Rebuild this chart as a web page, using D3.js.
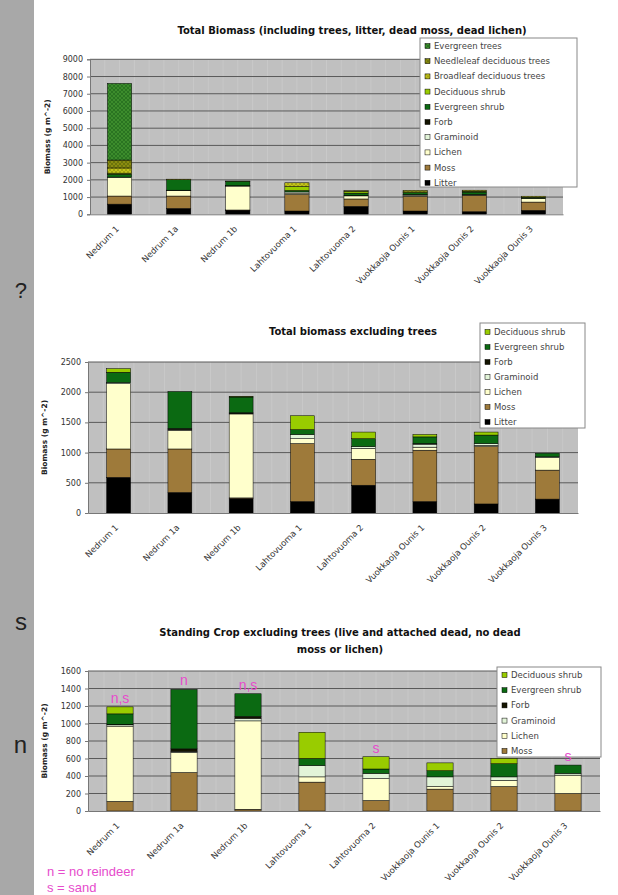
<!DOCTYPE html>
<html>
<head>
<meta charset="utf-8">
<script src="https://cdn.jsdelivr.net/npm/d3@7"></script>
<style>
  body { margin: 0; background: #fff; }
  svg text { font-family: "DejaVu Sans", Verdana, sans-serif; }
</style>
</head>
<body>
<div id="chart"></div>
<script>
var categories = ["Nedrum 1", "Nedrum 1a", "Nedrum 1b", "Lahtovuoma 1", "Lahtovuoma 2",
	"Vuokkaoja Ounis 1", "Vuokkaoja Ounis 2", "Vuokkaoja Ounis 3"];

// biomass in g m^-2
var litter         = [590, 340, 240, 190, 460, 190, 150, 230];
var moss           = [470, 720, 10, 960, 430, 850, 950, 480];
var lichen         = [1080, 310, 1390, 80, 180, 50, 20, 210];
var graminoid      = [20, 10, 10, 70, 30, 50, 30, 10];
var forb           = [0, 20, 10, 0, 0, 10, 0, 0];
var evergreenShrub = [170, 610, 260, 80, 130, 110, 140, 60];
var deciduousShrub = [60, 0, 10, 230, 110, 40, 50, 0];
var broadleafTrees  = [300, 30, 0, 220, 30, 90, 60, 60];
var needleleafTrees = [460, 0, 0, 0, 0, 0, 0, 0];
var evergreenTrees  = [4450, 0, 0, 0, 0, 0, 0, 0];

// standing crop (live and attached dead)
var scMoss      = [110, 440, 20, 330, 120, 250, 280, 200];
var scLichen    = [860, 230, 1010, 60, 250, 30, 70, 210];
var scGraminoid = [15, 10, 30, 130, 60, 110, 40, 20];
var scForb      = [5, 30, 20, 0, 0, 0, 0, 0];
var scEvergreen = [120, 680, 260, 80, 50, 70, 150, 95];
var scDeciduous = [80, 0, 0, 300, 140, 90, 60, 0];
var scNotes     = ["n,s", "n", "n,s", "", "s", "", "", "s"];

var ticks1 = d3.range(0, 9001, 1000);
var ticks2 = d3.range(0, 2501, 500);
var ticks3 = d3.range(0, 1601, 200);

var colors = {
	"Litter": "#000000",
	"Moss": "#9e7a3a",
	"Lichen": "#ffffcc",
	"Graminoid": "#e2f4d8",
	"Forb": "#141400",
	"Evergreen shrub": "#0b6a12",
	"Deciduous shrub": "#99cc00",
	"Broadleaf deciduous trees": "url(#hBroad)",
	"Needleleaf deciduous trees": "url(#hNeedle)",
	"Evergreen trees": "url(#hEver)"
};

var W = 618, H = 895;
var svg = d3.select("#chart").append("svg")
	.attr("width", W).attr("height", H);

// hatch fills for the tree series
var defs = svg.append("defs");
function hatch(id, bg, fg) {
	var p = defs.append("pattern").attr("id", id)
		.attr("patternUnits", "userSpaceOnUse").attr("width", 4).attr("height", 4);
	p.append("rect").attr("width", 4).attr("height", 4).attr("fill", bg);
	p.append("path").attr("d", "M0,4 L4,0 M0,0 L4,4").attr("stroke", fg).attr("stroke-width", 0.7);
}
hatch("hEver", "#3c8c2c", "#226a1c");
hatch("hNeedle", "#8c8c10", "#5e6a08");
hatch("hBroad", "#c4c41c", "#9a9a10");

// grey slide edge on the left
svg.append("rect").attr("x", 0).attr("y", 0).attr("width", 34).attr("height", H).attr("fill", "#a8a8a8");
svg.append("text").attr("x", 27).attr("y", 298).attr("text-anchor", "end")
	.style("font-family", "Liberation Sans, Arial").style("font-size", "22px").attr("fill", "#222").text("?");
svg.append("text").attr("x", 27).attr("y", 630).attr("text-anchor", "end")
	.style("font-family", "Liberation Sans, Arial").style("font-size", "24px").attr("fill", "#222").text("s");
svg.append("text").attr("x", 27).attr("y", 753).attr("text-anchor", "end")
	.style("font-family", "Liberation Sans, Arial").style("font-size", "24px").attr("fill", "#222").text("n");

function drawPanel(cfg) {
	var g = svg.append("g");
	var rows = categories.map(function(c, i) {
		var r = {cat: c};
		cfg.keys.forEach(function(k, j) { r[k] = cfg.values[j][i]; });
		return r;
	});
	var stacked = d3.stack().keys(cfg.keys)(rows);

	var x = d3.scaleBand().domain(categories).range([cfg.left, cfg.right])
		.paddingInner(cfg.pad).paddingOuter(cfg.pad / 2);
	var y = d3.scaleLinear().domain([0, d3.max(cfg.ticks)]).range([cfg.bottom, cfg.top]);

	g.append("rect")
		.attr("x", cfg.left).attr("y", cfg.top)
		.attr("width", cfg.right - cfg.left).attr("height", cfg.bottom - cfg.top)
		.attr("fill", "#c0c0c0");

	// faint vertical lines
	var step = x.step();
	g.selectAll(".vline").data(d3.range(1, categories.length * 4))
		.enter().append("line")
		.attr("x1", function(d) { return cfg.left + d * step / 4; })
		.attr("x2", function(d) { return cfg.left + d * step / 4; })
		.attr("y1", cfg.top).attr("y2", cfg.bottom)
		.attr("stroke", "#cfcfcf").attr("stroke-width", 0.6);

	g.selectAll(".grid").data(cfg.ticks.slice(1))
		.enter().append("line")
		.attr("x1", cfg.left).attr("x2", cfg.right)
		.attr("y1", function(d) { return y(d); }).attr("y2", function(d) { return y(d); })
		.attr("stroke", "#5a5a5a").attr("stroke-width", 1);

	g.selectAll(".layer").data(stacked)
		.enter().append("g")
		.attr("fill", function(d) { return colors[d.key]; })
		.selectAll("rect").data(function(d) { return d; })
		.enter().append("rect")
		.filter(function(d) { return d[1] - d[0] > 0; })
		.attr("x", function(d) { return x(d.data.cat); })
		.attr("width", x.bandwidth())
		.attr("y", function(d) { return y(d[1]); })
		.attr("height", function(d) { return y(d[0]) - y(d[1]); })
		.attr("stroke", "#000").attr("stroke-width", 0.5);

	var yAxis = g.append("g")
		.attr("transform", "translate(" + cfg.left + ",0)")
		.call(d3.axisLeft(y).tickValues(cfg.ticks).tickFormat(d3.format("d")).tickSize(3).tickPadding(4));
	yAxis.selectAll("text").style("font-size", "8px").attr("fill", "#333");
	yAxis.selectAll("line, path").attr("stroke", "#777");

	var xAxis = g.append("g")
		.attr("transform", "translate(0," + cfg.bottom + ")")
		.call(d3.axisBottom(x).tickSize(0).tickFormat(""));
	xAxis.selectAll("path").attr("stroke", "#777");

	g.selectAll(".cat").data(categories)
		.enter().append("text")
		.attr("transform", function(d) {
			return "translate(" + (x(d) + x.bandwidth() / 2 - 2) + "," + (cfg.bottom + 13) + ") rotate(-45)";
		})
		.attr("text-anchor", "end")
		.attr("dy", "0.35em")
		.style("font-size", "8.5px")
		.attr("fill", "#333")
		.text(function(d) { return d; });

	g.append("text")
		.attr("transform", "translate(" + cfg.yLabelX + "," + ((cfg.top + cfg.bottom) / 2) + ") rotate(-90)")
		.attr("text-anchor", "middle")
		.style("font-size", "7.5px").style("font-weight", "bold")
		.attr("fill", "#222")
		.text("Biomass (g m^-2)");

	cfg.title.forEach(function(t, i) {
		g.append("text")
			.attr("x", cfg.titleX).attr("y", cfg.titleY + i * 17)
			.attr("text-anchor", "middle")
			.style("font-size", "10px").style("font-weight", "bold")
			.attr("fill", "#111")
			.text(t);
	});

	// legend
	var L = cfg.legend;
	var clipId = "clip" + cfg.id;
	defs.append("clipPath").attr("id", clipId).append("rect")
		.attr("x", L.x).attr("y", L.y).attr("width", L.w).attr("height", L.h);
	g.append("rect").attr("x", L.x).attr("y", L.y).attr("width", L.w).attr("height", L.h)
		.attr("fill", "#fff");
	var lg = g.append("g").attr("clip-path", "url(#" + clipId + ")");
	var items = cfg.keys.slice().reverse();
	var it = lg.selectAll(".item").data(items).enter().append("g")
		.attr("transform", function(d, i) { return "translate(" + L.x + "," + (L.first + i * L.row) + ")"; });
	it.append("rect").attr("x", 5).attr("y", -2.5).attr("width", 5).attr("height", 5)
		.attr("fill", function(d) { return colors[d]; })
		.attr("stroke", "#000").attr("stroke-width", 0.5);
	it.append("text").attr("x", 14).attr("dy", "0.35em")
		.style("font-size", "8.5px").attr("fill", "#444")
		.text(function(d) { return d; });
	g.append("rect").attr("x", L.x).attr("y", L.y).attr("width", L.w).attr("height", L.h)
		.attr("fill", "none").attr("stroke", "#888").attr("stroke-width", 1);

	// site notes go on top of everything
	if (cfg.notes) {
		g.selectAll(".note").data(rows)
			.enter().append("text")
			.attr("x", function(d) { return x(d.cat) + x.bandwidth() / 2; })
			.attr("y", function(d) {
				return y(d3.sum(cfg.keys, function(k) { return d[k]; })) - 4;
			})
			.attr("text-anchor", "middle")
			.style("font-family", "Liberation Sans, Arial").style("font-size", "14px")
			.attr("fill", "#e64ccc")
			.text(function(d, i) { return cfg.notes[i]; });
	}
}

var allKeys = ["Litter", "Moss", "Lichen", "Graminoid", "Forb", "Evergreen shrub", "Deciduous shrub",
	"Broadleaf deciduous trees", "Needleleaf deciduous trees", "Evergreen trees"];

drawPanel({
	id: 1,
	keys: allKeys,
	values: [litter, moss, lichen, graminoid, forb, evergreenShrub, deciduousShrub,
		broadleafTrees, needleleafTrees, evergreenTrees],
	ticks: ticks1,
	left: 90, right: 563, top: 59.3, bottom: 214.3, pad: 0.59,
	yLabelX: 50,
	title: ["Total Biomass (including trees, litter, dead moss, dead lichen)"],
	titleX: 352, titleY: 34,
	legend: {x: 420, y: 38, w: 157, h: 149, first: 46, row: 15.2}
});

drawPanel({
	id: 2,
	keys: allKeys.slice(0, 7),
	values: [litter, moss, lichen, graminoid, forb, evergreenShrub, deciduousShrub],
	ticks: ticks2,
	left: 88, right: 578, top: 362, bottom: 513, pad: 0.61,
	yLabelX: 47,
	title: ["Total biomass excluding trees"],
	titleX: 353, titleY: 335,
	legend: {x: 480, y: 323, w: 105, h: 105, first: 332, row: 15}
});

drawPanel({
	id: 3,
	keys: allKeys.slice(1, 7),
	values: [scMoss, scLichen, scGraminoid, scForb, scEvergreen, scDeciduous],
	ticks: ticks3,
	notes: scNotes,
	left: 88, right: 600, top: 671, bottom: 811, pad: 0.59,
	yLabelX: 47,
	title: ["Standing Crop excluding trees (live and attached dead, no dead",
		"moss or lichen)"],
	titleX: 340, titleY: 636,
	legend: {x: 497, y: 667, w: 104, h: 90, first: 675, row: 15.2}
});

svg.append("text").attr("x", 47).attr("y", 876)
	.style("font-family", "Liberation Sans, Arial").style("font-size", "13px")
	.attr("fill", "#e64ccc").text("n = no reindeer");
svg.append("text").attr("x", 47).attr("y", 892)
	.style("font-family", "Liberation Sans, Arial").style("font-size", "13px")
	.attr("fill", "#e64ccc").text("s = sand");
</script>
</body>
</html>
